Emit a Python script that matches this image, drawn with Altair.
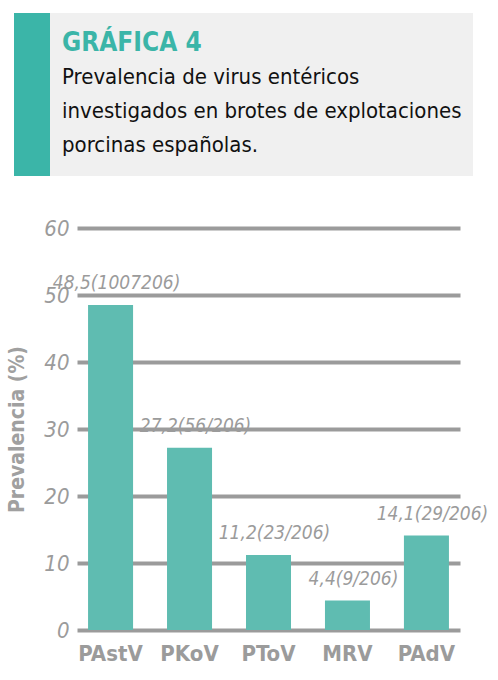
import altair as alt
import pandas as pd

virus = ["PAstV", "PKoV", "PToV", "MRV", "PAdV"]
prevalencia = [48.5, 27.2, 11.2, 4.4, 14.1]
etiquetas = ["48,5(1007206)", "27,2(56/206)", "11,2(23/206)", "4,4(9/206)", "14,1(29/206)"]
ticks_y = [0, 10, 20, 30, 40, 50, 60]

titulo = "GRÁFICA 4"
subtitulo = ["Prevalencia de virus entéricos",
             "investigados en brotes de explotaciones",
             "porcinas españolas."]

df = pd.DataFrame({"virus": virus, "prev": prevalencia, "lab": etiquetas})

FONT = "DejaVu Sans Condensed, Liberation Sans Narrow, sans-serif"
GRAY = "#9b9b9b"
TEAL = "#5fbcb1"
TEAL_D = "#3bb5a8"

W, H = 383, 402
L, T = 77, 228

x = alt.X("virus:N", sort=virus, title=None,
          scale=alt.Scale(paddingInner=0.43, paddingOuter=0.14),
          axis=alt.Axis(labelAngle=0, labelFont=FONT, labelFontSize=22,
                        labelFontWeight="bold", labelColor=GRAY, labelPadding=13,
                        domain=False, ticks=False))
y = alt.Y("prev:Q", title="Prevalencia (%)",
          scale=alt.Scale(domain=[0, 60], nice=False),
          axis=alt.Axis(values=ticks_y, grid=True, gridColor=GRAY, gridWidth=4,
                        domain=False, ticks=False, labelFont=FONT, labelFontSize=22,
                        labelFontStyle="italic", labelColor=GRAY, labelPadding=8,
                        titleFont=FONT, titleFontSize=21, titleFontWeight="bold",
                        titleColor="#a0a0a0", titlePadding=16))

bars = alt.Chart(df).mark_bar(color=TEAL).encode(x=x, y=y)
labels = alt.Chart(df).mark_text(font=FONT, fontSize=19, fontStyle="italic",
                                 color=GRAY, baseline="alphabetic", dy=-16, dx=6).encode(
    x=alt.X("virus:N", sort=virus), y=alt.Y("prev:Q"), text="lab:N")

hdr = pd.DataFrame({"k": [0]})
box = alt.Chart(hdr).mark_rect(color="#f0f0f0").encode(
    x=alt.value(14 - L), x2=alt.value(473 - L), y=alt.value(13 - T), y2=alt.value(176 - T))
stripe = alt.Chart(hdr).mark_rect(color=TEAL_D).encode(
    x=alt.value(14 - L), x2=alt.value(50 - L), y=alt.value(13 - T), y2=alt.value(176 - T))
tit = alt.Chart(hdr).mark_text(font=FONT, fontSize=26, fontWeight="bold", color=TEAL_D,
                               align="left", baseline="alphabetic", text=titulo).encode(
    x=alt.value(62 - L), y=alt.value(51 - T))
sub = alt.Chart(hdr).mark_text(font=FONT, fontSize=22, color="#111111",
                               align="left", baseline="alphabetic", lineHeight=34,
                               text=subtitulo).encode(
    x=alt.value(62 - L), y=alt.value(84 - T))

chart = alt.layer(box, stripe, tit, sub, bars, labels).properties(
    width=W, height=H,
    background="white",
    autosize=alt.AutoSizeParams(type="none"),
    padding={"left": L, "top": T, "right": 498 - L - W, "bottom": 680 - T - H},
).configure_view(stroke=None)

chart.save("out.html", embed_options={"renderer": "svg", "actions": False})
